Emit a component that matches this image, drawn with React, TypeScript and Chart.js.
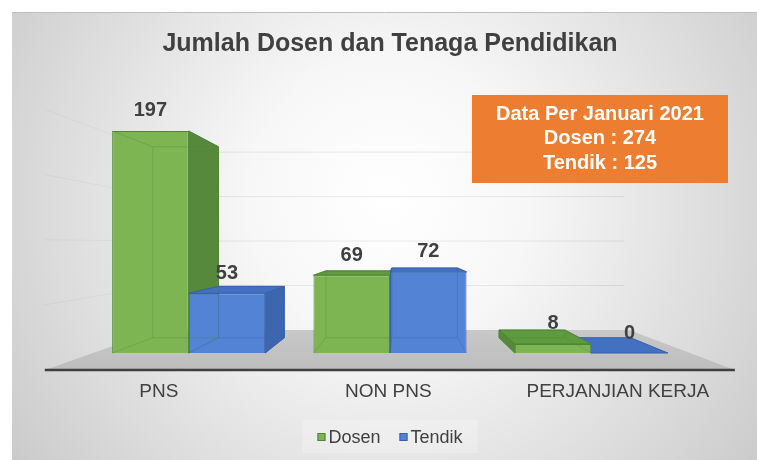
import React, { useEffect, useRef } from 'react';
import { Chart, registerables } from 'chart.js';

Chart.register(...registerables);

const titleText = 'Jumlah Dosen dan Tenaga Pendidikan';
const categories = ['PNS', 'NON PNS', 'PERJANJIAN KERJA'];
const seriesNames = ['Dosen', 'Tendik'];
const dosenValues = [197, 69, 8];
const tendikValues = [53, 72, 0];
const yTicks = [0, 50, 100, 150, 200];
const noteLines = ['Data Per Januari 2021', 'Dosen : 274', 'Tendik : 125'];

const FONT = '"Liberation Sans", Arial, sans-serif';
const TEXT = '#404040';

const palette = [
  { front: '#7CB552', side: '#57893D', top: '#5E9A3E', edge: '#4F8535' },
  { front: '#5283D4', side: '#3E66AE', top: '#4470C2', edge: '#3760AC' },
];

// perspective (styling constants, relative to chart area)
const persp = { vpX: 0.52, vpY: 0.516, barBack: 0.86, floorFront: 1.156, labelDepth: 1.14, wall: 0.789, floorInsetL: 5, floorInsetR: 2 };

function makeProj(chart: any) {
  const ca = chart.chartArea;
  const vx = ca.left + (ca.right - ca.left) * persp.vpX;
  const vy = ca.top + (ca.bottom - ca.top) * persp.vpY;
  const proj = (x: number, y: number, s: number): [number, number] => [vx + (x - vx) * s, vy + (y - vy) * s];
  return { proj, vx, vy };
}

function poly(ctx: CanvasRenderingContext2D, pts: [number, number][]) {
  ctx.beginPath();
  ctx.moveTo(pts[0][0], pts[0][1]);
  for (let i = 1; i < pts.length; i++) ctx.lineTo(pts[i][0], pts[i][1]);
  ctx.closePath();
}

function barItems(chart: any, vx: number) {
  const items: any[] = [];
  chart.data.datasets.forEach((ds: any, di: number) => {
    const meta = chart.getDatasetMeta(di);
    meta.data.forEach((el: any, i: number) => {
      const p = el.getProps(['x', 'y', 'base', 'width'], true);
      items.push({
        di,
        i,
        cx: p.x,
        left: p.x - p.width / 2,
        right: p.x + p.width / 2,
        top: Math.min(p.y, p.base),
        bottom: Math.max(p.y, p.base),
        value: ds.data[i],
      });
    });
  });
  items.sort((a, b) => Math.abs(b.cx - vx) - Math.abs(a.cx - vx));
  return items;
}

const threeD = {
  id: 'threeD',
  beforeDraw(chart: any) {
    const ctx: CanvasRenderingContext2D = chart.ctx;
    const W = chart.width;
    const H = chart.height;
    ctx.save();
    ctx.fillStyle = '#ffffff';
    ctx.fillRect(0, 0, W, H);
    const g = ctx.createRadialGradient(388, 200, 0, 388, 200, 470);
    g.addColorStop(0, '#ffffff');
    g.addColorStop(0.3, '#f7f7f7');
    g.addColorStop(1, '#c9c9c9');
    ctx.fillStyle = g;
    ctx.fillRect(12, 12, W - 12, H - 12);
    ctx.strokeStyle = '#bdbdbd';
    ctx.lineWidth = 1;
    ctx.beginPath();
    ctx.moveTo(12, 12.5);
    ctx.lineTo(W, 12.5);
    ctx.stroke();
    ctx.restore();
  },
  beforeDatasetsDraw(chart: any) {
    const ctx: CanvasRenderingContext2D = chart.ctx;
    const ca = chart.chartArea;
    const ys = chart.scales.y;
    const { proj, vx } = makeProj(chart);
    const y0 = ys.getPixelForValue(0);
    const fl = ca.left + persp.floorInsetL;
    const fr = ca.right - persp.floorInsetR;
    ctx.save();
    // gridlines on back wall and (faintly) side wall
    ctx.lineWidth = 1;
    yTicks.forEach((v) => {
      if (v === 0) return;
      const y = ys.getPixelForValue(v);
      const a = proj(fl, y, persp.wall);
      const b = proj(fr - 6, y, persp.wall);
      const c = proj(fl, y, persp.floorFront);
      ctx.strokeStyle = 'rgba(0,0,0,0.035)';
      ctx.beginPath();
      ctx.moveTo(c[0], c[1]);
      ctx.lineTo(a[0], a[1]);
      ctx.stroke();
      ctx.strokeStyle = 'rgba(0,0,0,0.08)';
      ctx.beginPath();
      ctx.moveTo(a[0], a[1]);
      ctx.lineTo(b[0], b[1]);
      ctx.stroke();
    });
    // floor
    const FL = proj(fl, y0, persp.floorFront);
    const FR = proj(fr, y0, persp.floorFront);
    const BR = proj(fr, y0, persp.wall);
    const BL = proj(fl, y0, persp.wall);
    const fg = ctx.createLinearGradient(0, BL[1], 0, FL[1]);
    fg.addColorStop(0, '#c8c8c8');
    fg.addColorStop(1, '#bdbdbd');
    ctx.fillStyle = fg;
    poly(ctx, [FL, FR, BR, BL]);
    ctx.fill();
    ctx.strokeStyle = '#3f3f3f';
    ctx.lineWidth = 2.5;
    ctx.beginPath();
    ctx.moveTo(FL[0], FL[1]);
    ctx.lineTo(FR[0], FR[1]);
    ctx.stroke();

    // side and top faces
    ctx.lineWidth = 1;
    barItems(chart, vx).forEach((it) => {
      const c = palette[it.di];
      const bTL = proj(it.left, it.top, persp.barBack);
      const bTR = proj(it.right, it.top, persp.barBack);
      const bBL = proj(it.left, it.bottom, persp.barBack);
      const bBR = proj(it.right, it.bottom, persp.barBack);
      ctx.strokeStyle = c.edge;
      if (bTR[0] > it.right + 0.5) {
        poly(ctx, [[it.right, it.top], bTR, bBR, [it.right, it.bottom]]);
        ctx.fillStyle = c.side;
        ctx.fill();
        ctx.stroke();
      }
      if (bTL[0] < it.left - 0.5) {
        poly(ctx, [[it.left, it.top], bTL, bBL, [it.left, it.bottom]]);
        ctx.fillStyle = c.side;
        ctx.fill();
        ctx.stroke();
      }
      if (bTL[1] < it.top) {
        poly(ctx, [[it.left, it.top], [it.right, it.top], bTR, bTL]);
        ctx.fillStyle = c.top;
        ctx.fill();
        ctx.stroke();
      }
    });
    ctx.restore();
  },
  afterDatasetsDraw(chart: any) {
    const ctx: CanvasRenderingContext2D = chart.ctx;
    const ys = chart.scales.y;
    const xs = chart.scales.x;
    const { proj, vx } = makeProj(chart);
    const items = barItems(chart, vx);
    ctx.save();
    // hidden edges seen through the bars
    ctx.lineWidth = 1;
    items.forEach((it) => {
      if (it.bottom - it.top < 1) return;
      const c = palette[it.di];
      const fTL: [number, number] = [it.left, it.top];
      const fTR: [number, number] = [it.right, it.top];
      const fBL: [number, number] = [it.left, it.bottom];
      const fBR: [number, number] = [it.right, it.bottom];
      const bTL = proj(it.left, it.top, persp.barBack);
      const bTR = proj(it.right, it.top, persp.barBack);
      const bBL = proj(it.left, it.bottom, persp.barBack);
      const bBR = proj(it.right, it.bottom, persp.barBack);
      ctx.strokeStyle = c.edge;
      ctx.globalAlpha = 0.3;
      ctx.beginPath();
      ctx.moveTo(bTL[0], bTL[1]);
      ctx.lineTo(bTR[0], bTR[1]);
      ctx.lineTo(bBR[0], bBR[1]);
      ctx.lineTo(bBL[0], bBL[1]);
      ctx.closePath();
      [[fTL, bTL], [fTR, bTR], [fBL, bBL], [fBR, bBR]].forEach(([a, b]) => {
        ctx.moveTo(a[0], a[1]);
        ctx.lineTo(b[0], b[1]);
      });
      ctx.stroke();
    });
    ctx.globalAlpha = 1;
    // value labels
    ctx.fillStyle = TEXT;
    ctx.font = `bold 20px ${FONT}`;
    ctx.textAlign = 'center';
    ctx.textBaseline = 'middle';
    items.forEach((it) => {
      ctx.fillText(String(it.value), it.cx, it.top - 20);
    });
    // category labels below the floor's front edge
    const y0 = ys.getPixelForValue(0);
    const front = proj(0, y0, persp.floorFront);
    ctx.font = `19px ${FONT}`;
    categories.forEach((lab, i) => {
      const p = proj(xs.getPixelForValue(i), y0, persp.labelDepth);
      ctx.fillText(lab, p[0], front[1] + 22);
    });
    ctx.restore();
  },
  afterDraw(chart: any) {
    const ctx: CanvasRenderingContext2D = chart.ctx;
    ctx.save();
    // legend
    ctx.font = `18px ${FONT}`;
    ctx.textBaseline = 'middle';
    ctx.textAlign = 'left';
    const box = 8;
    const gap = 3;
    const itemGap = 19;
    const widths = seriesNames.map((n) => ctx.measureText(n).width);
    const total = widths.reduce((s, w) => s + box + gap + w, 0) + itemGap * (seriesNames.length - 1);
    const cxL = 390;
    const ly = 437;
    ctx.fillStyle = 'rgba(255,255,255,0.22)';
    ctx.fillRect(cxL - total / 2 - 15, 420, total + 30, 33);
    let x = cxL - total / 2;
    seriesNames.forEach((n, i) => {
      ctx.fillStyle = palette[i].front;
      ctx.fillRect(x, ly - box / 2, box, box);
      ctx.strokeStyle = palette[i].edge;
      ctx.lineWidth = 1;
      ctx.strokeRect(x + 0.5, ly - box / 2 + 0.5, box - 1, box - 1);
      x += box + gap;
      ctx.fillStyle = TEXT;
      ctx.fillText(n, x, ly + 1);
      x += widths[i] + itemGap;
    });
    // note box
    ctx.fillStyle = '#ED7D31';
    ctx.fillRect(472, 95, 256, 88);
    ctx.fillStyle = '#ffffff';
    ctx.font = `bold 20px ${FONT}`;
    ctx.textAlign = 'center';
    noteLines.forEach((t, i) => {
      ctx.fillText(t, 600, 114 + i * 24.5);
    });
    ctx.restore();
  },
};

export default function App() {
  const ref = useRef<HTMLCanvasElement | null>(null);
  useEffect(() => {
    document.body.style.margin = '0';
    if (!ref.current) return;
    const chart = new Chart(ref.current, {
      type: 'bar',
      data: {
        labels: categories,
        datasets: [
          {
            label: seriesNames[0],
            data: dosenValues,
            backgroundColor: palette[0].front,
            borderColor: palette[0].edge,
            borderWidth: 1,
            categoryPercentage: 0.76,
            barPercentage: 1,
          },
          {
            label: seriesNames[1],
            data: tendikValues,
            backgroundColor: palette[1].front,
            borderColor: palette[1].edge,
            borderWidth: 1,
            categoryPercentage: 0.76,
            barPercentage: 1,
          },
        ],
      },
      options: {
        responsive: false,
        animation: false,
        layout: { padding: { left: 88, right: 65, top: 0, bottom: 107 } },
        scales: {
          x: { display: false },
          y: { display: false, min: 0, max: 200 },
        },
        plugins: {
          legend: { display: false },
          tooltip: { enabled: false },
          title: {
            display: true,
            text: titleText,
            color: TEXT,
            font: { family: FONT, size: 25, weight: 'bold' },
            padding: { top: 29, bottom: 68.6 },
          },
        },
      },
      plugins: [threeD],
    });
    return () => chart.destroy();
  }, []);
  return <canvas ref={ref} width={757} height={460} style={{ display: 'block' }} />;
}
